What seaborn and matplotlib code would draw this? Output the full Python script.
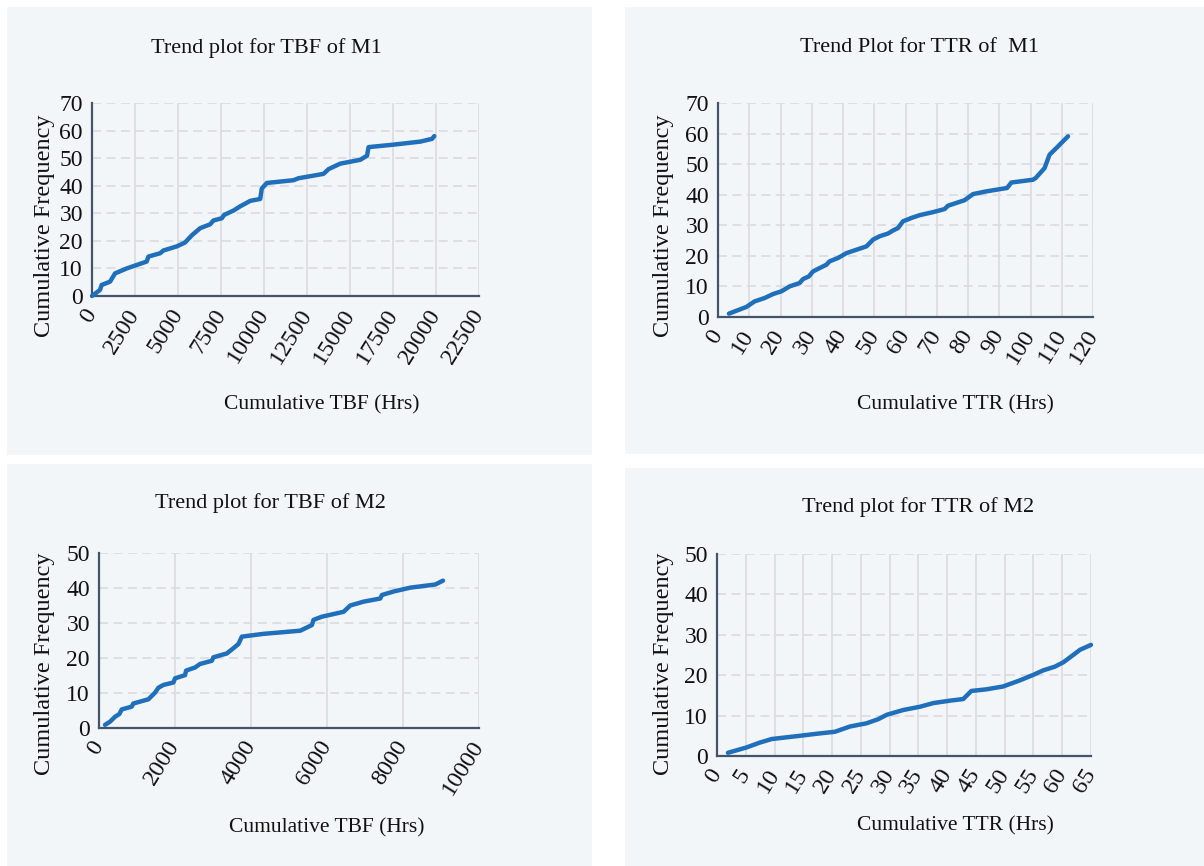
import matplotlib
matplotlib.use("Agg")
import matplotlib.pyplot as plt
import seaborn as sns
import pandas as pd
from matplotlib.patches import Rectangle

# values
tbf_m1_x = [0, 465, 560, 1050, 1340, 2020, 3180, 3280, 3960, 4150, 4930, 5410, 5800, 6290,
            6870, 7060, 7550, 7680, 8230, 8610, 9200, 9780, 9870, 10170, 11720, 12000,
            13460, 13750, 14430, 15600, 15990, 16080, 17540, 19090, 19770, 19900]
tbf_m1_y = [0, 2.2, 4, 5.2, 8.2, 10, 12.5, 14.3, 15.5, 16.5, 18, 19.4, 22, 24.6,
            26, 27.4, 28.2, 29.4, 31, 32.5, 34.5, 35.2, 39, 41, 42, 42.7,
            44.3, 46, 48, 49.4, 50.9, 54, 54.9, 56, 57, 58]

ttr_m1_x = [3.5, 9.1, 11.7, 14.9, 17.6, 20.3, 22.9, 26.1, 27.2, 29.1, 30.4, 32.5, 34.7,
            35.7, 38.4, 41.1, 44.3, 47.5, 49.6, 51.7, 54.4, 56, 57.6, 59.2, 61.9, 64.5,
            68.8, 72.5, 73.6, 78.9, 81.6, 85.9, 92.5, 93.9, 100.8, 101.7, 104.5, 106.1,
            108.3, 112]
ttr_m1_y = [1.1, 3.3, 5.1, 6.2, 7.5, 8.4, 10, 11.1, 12.4, 13.3, 14.9, 16, 17.1,
            18.2, 19.3, 20.9, 22, 23.1, 25.3, 26.4, 27.3, 28.3, 29.1, 31.3, 32.4, 33.3,
            34.3, 35.3, 36.4, 38.2, 40.2, 41.1, 42.2, 44, 44.9, 45.5, 48.7, 53.1,
            55.3, 59.1]

tbf_m2_x = [158, 290, 421, 536, 597, 860, 904, 1300, 1475, 1563, 1695, 1958, 2002, 2265,
            2292, 2529, 2660, 2968, 3012, 3363, 3538, 3670, 3758, 4329, 5295, 5602, 5646,
            5865, 6436, 6612, 6963, 7402, 7446, 7753, 8192, 8850, 9052]
tbf_m2_y = [0.9, 1.8, 3.2, 4, 5.3, 6.1, 7, 8.2, 10.1, 11.5, 12.3, 13, 14.2, 15.1,
            16.4, 17.3, 18.3, 19.2, 20.2, 21.3, 22.8, 24, 26.1, 26.9, 27.8, 29.4, 30.9,
            31.8, 33.2, 35, 36.1, 37, 38, 39, 40.1, 41, 42.1]

ttr_m2_x = [1.9, 5.1, 7.4, 9.5, 14.4, 17.3, 20.5, 23.1, 26, 28, 29.5, 32.4, 35.3, 37.6,
            40.5, 42.8, 44.2, 46.8, 49.7, 52.6, 55, 56.7, 58.7, 60.2, 61.9, 63.1, 65]
ttr_m2_y = [0.8, 2.1, 3.3, 4.2, 5, 5.5, 6, 7.3, 8.1, 9.1, 10.2, 11.4, 12.2, 13.1,
            13.7, 14.1, 16.1, 16.5, 17.2, 18.7, 20.1, 21.2, 22.1, 23.2, 25, 26.3, 27.5]

titles = ["Trend plot for TBF of M1", "Trend Plot for TTR of  M1",
          "Trend plot for TBF of M2", "Trend plot for TTR of M2"]
xlabels = ["Cumulative TBF (Hrs)", "Cumulative TTR (Hrs)",
           "Cumulative TBF (Hrs)", "Cumulative TTR (Hrs)"]
ylabel = "Cumulative Frequency"

W, H = 1204, 866
sns.set_theme(style="white")
plt.rcParams['font.family'] = ['Liberation Serif', 'DejaVu Serif']

fig = plt.figure(figsize=(W / 100, H / 100), dpi=100)
fig.patch.set_facecolor("white")


def box(x0, y0, x1, y1):
    # pixel box (top-left origin) -> figure fraction [l, b, w, h]
    return [x0 / W, 1 - y1 / H, (x1 - x0) / W, (y1 - y0) / H]


def px(x, y):
    return x / W, 1 - y / H


# panel backgrounds
for x0, y0, x1, y1 in [(7, 7, 592, 455), (625, 7, 1204, 454),
                       (7, 464, 592, 866), (625, 468, 1204, 866)]:
    fig.patches.append(Rectangle((x0 / W, 1 - y1 / H), (x1 - x0) / W, (y1 - y0) / H,
                                 transform=fig.transFigure, facecolor="#f3f6f8",
                                 edgecolor="none", zorder=-5))

panels = [
    dict(data=(tbf_m1_x, tbf_m1_y), ax=box(92, 103, 479, 296), xmax=22500, xstep=2500, ymax=70,
         title=(266, 48), xl=(322, 405), yl=(45, 226)),
    dict(data=(ttr_m1_x, ttr_m1_y), ax=box(718, 103, 1093, 317), xmax=120, xstep=10, ymax=70,
         title=(919, 48), xl=(955, 405), yl=(663, 226)),
    dict(data=(tbf_m2_x, tbf_m2_y), ax=box(99, 553, 479, 728), xmax=10000, xstep=2000, ymax=50,
         title=(270, 503), xl=(327, 828), yl=(45, 664)),
    dict(data=(ttr_m2_x, ttr_m2_y), ax=box(717, 554, 1091, 756), xmax=65, xstep=5, ymax=50,
         title=(918, 507), xl=(955, 826), yl=(663, 664)),
]

axis_col = "#44546a"
for i, p in enumerate(panels):
    ax = fig.add_axes(p["ax"])
    ax.set_zorder(2)
    ax.set_facecolor("none")
    df = pd.DataFrame({"x": p["data"][0], "y": p["data"][1]})
    sns.lineplot(data=df, x="x", y="y", ax=ax, color="#1f6fbb", linewidth=3.2,
                 solid_capstyle="round", solid_joinstyle="round", zorder=3, clip_on=False)
    ax.set_xlim(0, p["xmax"])
    ax.set_ylim(0, p["ymax"])
    ax.set_xticks(range(0, p["xmax"] + 1, p["xstep"]))
    ax.set_yticks(range(0, p["ymax"] + 1, 10))
    ax.grid(axis="x", color="#dcdde0", linewidth=1.3, linestyle="-")
    ax.grid(axis="y", color="#dcdde0", linewidth=1.3, linestyle=(0, (5, 3)))
    ax.set_axisbelow(True)
    for s in ["top", "right"]:
        ax.spines[s].set_visible(False)
    for s in ["left", "bottom"]:
        ax.spines[s].set_color(axis_col)
        ax.spines[s].set_linewidth(1.6)
    ax.tick_params(axis="both", direction="inout", length=9, width=1.6, color=axis_col,
                   labelsize=17, labelcolor="#111111", pad=2)
    ax.tick_params(axis="x", pad=6, labelsize=17.5)
    for lab in ax.get_xticklabels():
        lab.set_rotation(58)
        lab.set_ha("right")
        lab.set_va("center")
        lab.set_rotation_mode("anchor")
    ax.set_xlabel("")
    ax.set_ylabel("")
    fig.text(*px(*p["title"]), titles[i], ha="center", va="center", fontsize=16,
             color="#111111")
    fig.text(*px(*p["xl"]), xlabels[i], ha="center", va="center", fontsize=15.5,
             color="#111111")
    fig.text(*px(*p["yl"]), ylabel, ha="center", va="center", rotation=90, fontsize=17.5,
             color="#111111")

fig.savefig("out.png", dpi=100, facecolor="white")
